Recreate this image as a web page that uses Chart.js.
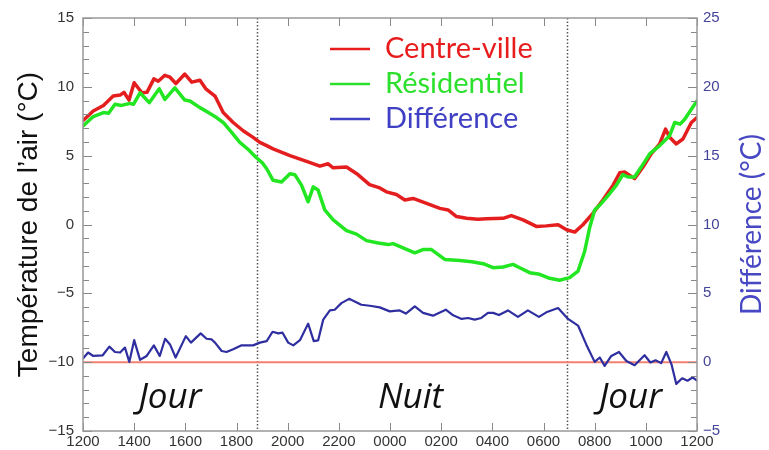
<!DOCTYPE html>
<html>
<head>
<meta charset="utf-8">
<script src="https://cdn.jsdelivr.net/npm/chart.js@4.4.0/dist/chart.umd.min.js"></script>
<style>
  html, body { margin: 0; padding: 0; background: #fff; }
</style>
</head>
<body>
<canvas id="chart" width="769" height="450"></canvas>
<script>
// tick labels of the time axis (every 2 h, from noon to noon)
const timeLabels = ['1200', '1400', '1600', '1800', '2000', '2200', '0000', '0200', '0400', '0600', '0800', '1000', '1200'];

// Centre-ville (°C), hours since 12:00
const centreHours = [0, 0.4, 0.8, 1.18, 1.45, 1.6, 1.8, 2.0, 2.3, 2.5, 2.77, 2.94, 3.2, 3.4, 3.63, 3.98, 4.25, 4.57, 4.8, 5.16,
  5.48, 5.87, 6.26, 6.65, 6.91, 7.18, 7.43, 7.7, 8.09, 8.74, 9.26, 9.58, 9.78, 10.3, 10.7, 11.2, 11.6, 11.86, 12.25, 12.58,
  12.9, 13.43, 13.95, 14.27, 14.6, 14.99, 15.44, 15.77, 16.42, 16.74, 17.2, 17.72, 18.11, 18.57, 18.9, 19.22, 19.54, 19.93, 20.32, 20.72,
  20.98, 21.17, 21.56, 21.89, 22.21, 22.54, 22.77, 22.93, 23.19, 23.45, 23.78, 24];
const centreTemp = [7.55, 8.25, 8.65, 9.33, 9.4, 9.6, 9.04, 10.3, 9.57, 9.6, 10.58, 10.4, 10.84, 10.7, 10.24, 10.93, 10.34, 10.48, 9.86, 9.33,
  8.13, 7.41, 6.81, 6.33, 5.97, 5.73, 5.49, 5.3, 5.01, 4.58, 4.24, 4.41, 4.12, 4.17, 3.69, 2.9, 2.66, 2.37, 2.18, 1.78,
  1.89, 1.53, 1.17, 1.06, 0.58, 0.45, 0.38, 0.41, 0.45, 0.65, 0.34, -0.14, -0.1, -0.02, -0.38, -0.55, -0.02, 0.81, 1.78, 2.86,
  3.76, 3.81, 3.33, 4.17, 5.13, 5.85, 6.93, 6.33, 5.85, 6.21, 7.41, 7.77];

// Résidentiel (°C)
const residHours = [0, 0.4, 0.8, 1.0, 1.25, 1.5, 1.84, 1.97, 2.23, 2.59, 2.98, 3.2, 3.59, 3.98, 4.18, 4.57, 4.9, 5.22, 5.48, 5.81,
  6.13, 6.46, 6.78, 7.0, 7.18, 7.43, 7.76, 8.09, 8.28, 8.54, 8.8, 9.0, 9.19, 9.45, 9.78, 10.3, 10.69, 11.08, 11.54, 11.93,
  12.12, 12.51, 12.97, 13.29, 13.62, 14.14, 14.73, 15.2, 15.64, 16.03, 16.42, 16.81, 17.07, 17.46, 17.85, 18.24, 18.63, 19.02, 19.35, 19.61,
  19.8, 20.0, 20.26, 20.59, 20.85, 21.1, 21.3, 21.56, 21.82, 22.15, 22.54, 22.93, 23.13, 23.34, 23.52, 23.78, 24];
const residTemp = [7.15, 7.84, 8.13, 8.08, 8.73, 8.65, 8.8, 8.73, 9.57, 8.85, 9.86, 9.09, 9.93, 9.04, 8.97, 8.49, 8.13, 7.77, 7.41, 6.69,
  5.97, 5.45, 4.85, 4.5, 4.05, 3.21, 3.09, 3.69, 3.62, 2.86, 1.65, 2.73, 2.5, 1.06, 0.34, -0.45, -0.7, -1.17, -1.35, -1.46,
  -1.39, -1.7, -2.06, -1.82, -1.82, -2.54, -2.61, -2.7, -2.85, -3.14, -3.09, -2.9, -3.14, -3.5, -3.62, -3.91, -4.05, -3.86, -3.38, -1.94,
  -0.26, 1.06, 1.53, 2.25, 2.86, 3.62, 3.45, 3.45, 4.17, 5.13, 5.73, 6.45, 7.41, 7.29, 7.65, 8.37, 8.97];

// Différence (°C), right axis
const diffHours = [0, 0.2, 0.4, 0.77, 1.03, 1.25, 1.45, 1.64, 1.81, 2.0, 2.23, 2.49, 2.77, 3.0, 3.21, 3.4, 3.62, 4.02, 4.22, 4.6,
  4.83, 5.03, 5.16, 5.42, 5.61, 5.87, 6.2, 6.65, 6.91, 7.18, 7.41, 7.63, 7.8, 8.02, 8.22, 8.48, 8.8, 9.02, 9.19, 9.39,
  9.65, 9.84, 10.1, 10.4, 10.62, 10.88, 11.21, 11.6, 11.99, 12.38, 12.62, 12.97, 13.29, 13.68, 14.18, 14.47, 14.8, 15.05, 15.31, 15.57,
  15.83, 16.03, 16.26, 16.61, 17.0, 17.39, 17.82, 18.11, 18.57, 18.96, 19.35, 19.67, 20.0, 20.2, 20.39, 20.65, 20.95, 21.24, 21.56, 21.95,
  22.18, 22.38, 22.6, 22.8, 23.0, 23.19, 23.42, 23.63, 23.83, 24];
const diffTemp = [0.27, 0.7, 0.45, 0.5, 1.13, 0.74, 0.7, 1.06, 0.02, 1.6, 0.17, 0.45, 1.22, 0.45, 1.7, 1.29, 0.34, 1.89, 1.42, 2.09,
  1.7, 1.65, 1.42, 0.81, 0.74, 0.94, 1.22, 1.22, 1.42, 1.53, 2.21, 2.09, 2.14, 1.42, 1.22, 1.6, 2.8, 1.53, 1.58, 3.09,
  3.76, 3.81, 4.29, 4.6, 4.41, 4.17, 4.1, 3.98, 3.69, 3.76, 3.53, 4.05, 3.58, 3.38, 3.81, 3.4, 3.14, 3.21, 3.09, 3.21,
  3.58, 3.58, 3.42, 3.76, 3.29, 3.76, 3.29, 3.62, 3.93, 3.14, 2.66, 1.29, 0.02, 0.34, -0.27, 0.45, 0.74, 0.09, -0.22, 0.5,
  -0.02, 0.14, -0.07, 0.74, -0.14, -1.58, -1.17, -1.35, -1.1, -1.35];

// zero reference of the difference
const zeroHours = [0, 24];
const zeroValues = [0, 0];

// night limits (hours since 12:00) and period labels
const nightLimits = [6.8, 18.9];
const periodNames = ['Jour', 'Nuit', 'Jour'];
const periodHours = [3.4, 12.8, 21.4];
const periodLevel = -13.3;

const toPoints = (xs, ys) => xs.map((x, i) => ({ x: x, y: ys[i] }));
const minus = v => (v < 0 ? '\u2212' + Math.abs(v) : String(v));

const tickFont = { family: 'Liberation Sans', size: 15 };

const decorPlugin = {
  id: 'decor',
  beforeDatasetsDraw(chart) {
    const { ctx, chartArea: a, scales } = chart;
    ctx.save();
    // night limits
    ctx.strokeStyle = '#555';
    ctx.lineWidth = 1.5;
    ctx.setLineDash([1.5, 2]);
    nightLimits.forEach(h => {
      const x = Math.round(scales.x.getPixelForValue(h)) + 0.5;
      ctx.beginPath();
      ctx.moveTo(x, a.top);
      ctx.lineTo(x, a.bottom);
      ctx.stroke();
    });
    ctx.restore();
  },
  afterDatasetsDraw(chart) {
    const { ctx, chartArea: a, scales } = chart;
    ctx.save();
    // inward ticks
    ctx.strokeStyle = '#888';
    ctx.lineWidth = 1;
    for (let v = -15; v <= 15; v++) {
      const y = Math.round(scales.y.getPixelForValue(v)) + 0.5;
      const len = v % 5 === 0 ? 9 : 6;
      ctx.beginPath();
      ctx.moveTo(a.left, y); ctx.lineTo(a.left + len, y);
      ctx.stroke();
    }
    for (let v = -5; v <= 25; v++) {
      const y = Math.round(scales.y2.getPixelForValue(v)) + 0.5;
      const len = v % 5 === 0 ? 9 : 6;
      ctx.beginPath();
      ctx.moveTo(a.right, y); ctx.lineTo(a.right - len, y);
      ctx.stroke();
    }
    for (let h = 0; h <= 24; h += 2) {
      const x = Math.round(scales.x.getPixelForValue(h)) + 0.5;
      ctx.beginPath();
      ctx.moveTo(x, a.bottom); ctx.lineTo(x, a.bottom - 8);
      ctx.moveTo(x, a.top); ctx.lineTo(x, a.top + 8);
      ctx.stroke();
    }
    // frame
    ctx.strokeStyle = '#999';
    ctx.lineWidth = 1.5;
    ctx.strokeRect(a.left, a.top, a.right - a.left, a.bottom - a.top);

    // period labels
    ctx.fillStyle = '#111';
    ctx.font = 'italic 35px "Open Sans"';
    ctx.textAlign = 'center';
    ctx.textBaseline = 'alphabetic';
    periodNames.forEach((name, i) => {
      ctx.fillText(name, scales.x.getPixelForValue(periodHours[i]), scales.y.getPixelForValue(periodLevel));
    });

    // legend
    const items = chart.data.datasets.filter(d => d.inLegend);
    ctx.font = '29px Lato';
    ctx.textAlign = 'left';
    ctx.textBaseline = 'middle';
    items.forEach((d, i) => {
      const y = 49 + i * 35;
      ctx.strokeStyle = d.legendColor;
      ctx.lineWidth = 2.5;
      ctx.setLineDash([]);
      ctx.beginPath();
      ctx.moveTo(330, y); ctx.lineTo(370, y);
      ctx.stroke();
      ctx.fillStyle = d.legendColor;
      ctx.fillText(d.label, 385, y);
    });

    // axis titles
    ctx.textAlign = 'center';
    ctx.textBaseline = 'middle';
    const midY = (a.top + a.bottom) / 2;
    ctx.save();
    ctx.translate(29, midY);
    ctx.rotate(-Math.PI / 2);
    ctx.fillStyle = '#111';
    ctx.font = '28px "Liberation Sans"';
    ctx.fillText('Température de l\u2019air (°C)', 0, 0);
    ctx.restore();
    ctx.save();
    ctx.translate(752, midY);
    ctx.rotate(-Math.PI / 2);
    ctx.fillStyle = '#4848c4';
    ctx.font = '28px Lato';
    ctx.fillText('Différence (°C)', 0, 0);
    ctx.restore();
    ctx.restore();
  }
};

const ctx = document.getElementById('chart').getContext('2d');
new Chart(ctx, {
  type: 'line',
  data: {
    datasets: [
      { label: 'Centre-ville', data: toPoints(centreHours, centreTemp), yAxisID: 'y',
        borderColor: '#e41e1e', legendColor: '#e81c1c', borderWidth: 3.5, order: 2, inLegend: true },
      { label: 'Résidentiel', data: toPoints(residHours, residTemp), yAxisID: 'y',
        borderColor: '#22e622', legendColor: '#2ee02e', borderWidth: 3.5, order: 1, inLegend: true },
      { label: 'Différence', data: toPoints(diffHours, diffTemp), yAxisID: 'y2',
        borderColor: '#2e2ea0', legendColor: '#4040c4', borderWidth: 2.2, order: 3, inLegend: true },
      { label: 'zero', data: toPoints(zeroHours, zeroValues), yAxisID: 'y2',
        borderColor: '#f28070', borderWidth: 2, order: 4, inLegend: false }
    ]
  },
  options: {
    responsive: false,
    animation: false,
    layout: { padding: { top: 15 } },
    elements: {
      point: { radius: 0 },
      line: { tension: 0, borderJoinStyle: 'round', borderCapStyle: 'round' }
    },
    plugins: { legend: { display: false }, tooltip: { enabled: false } },
    scales: {
      x: {
        type: 'linear', min: 0, max: 24,
        ticks: { stepSize: 2, autoSkip: false, maxRotation: 0, padding: 2, color: '#333', font: tickFont,
          callback: v => timeLabels[v / 2] },
        grid: { display: false, drawTicks: false },
        border: { display: false },
        afterFit: s => { s.height = 19; }
      },
      y: {
        position: 'left', min: -15, max: 15,
        ticks: { stepSize: 5, padding: 9, color: '#333', font: tickFont, callback: minus },
        grid: { display: false, drawTicks: false },
        border: { display: false },
        afterFit: s => { s.width = 83; }
      },
      y2: {
        position: 'right', min: -5, max: 25,
        ticks: { stepSize: 5, padding: 6, color: '#44449a', font: tickFont, callback: minus },
        grid: { display: false, drawTicks: false },
        border: { display: false },
        afterFit: s => { s.width = 72; }
      }
    }
  },
  plugins: [decorPlugin]
});
</script>
</body>
</html>
